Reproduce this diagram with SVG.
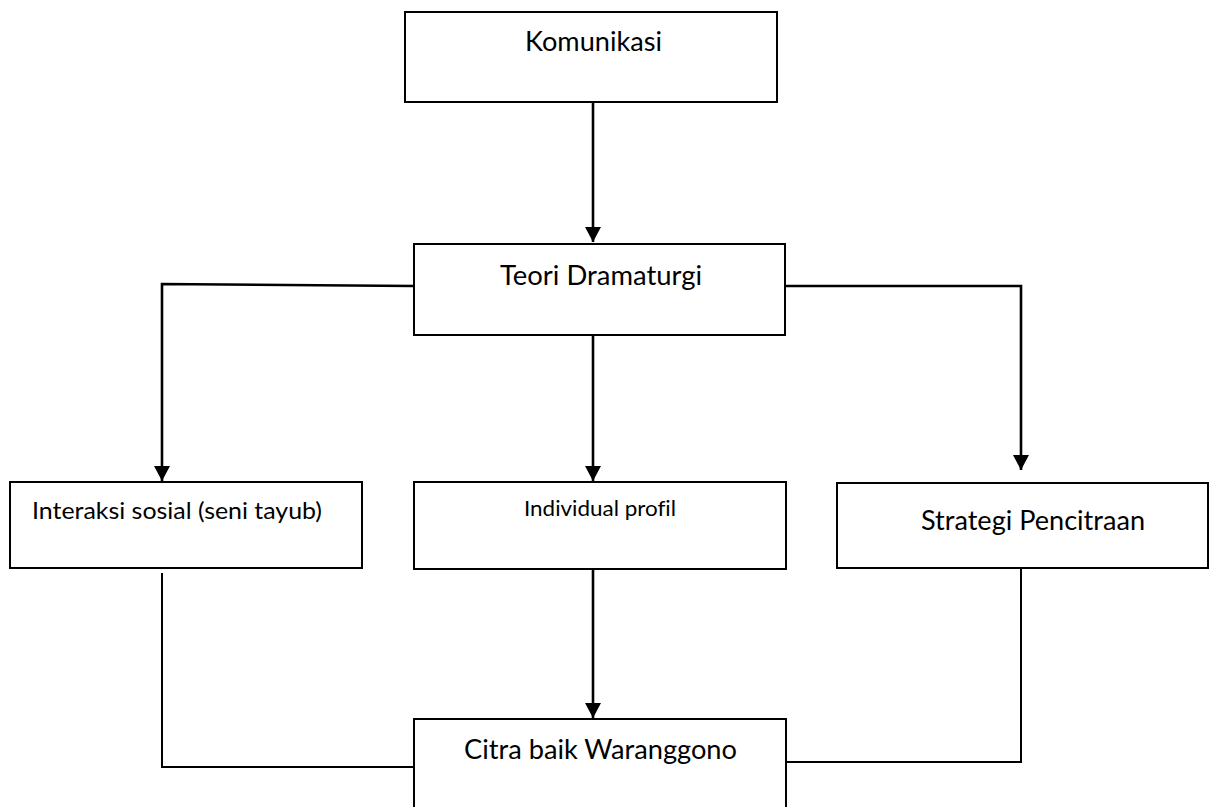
<svg xmlns="http://www.w3.org/2000/svg" width="1229" height="807" viewBox="0 0 1229 807">
<style>
.box{fill:#fff;stroke:#000;stroke-width:2}
.lbl{font-family:Lato,"Open Sans","Liberation Sans",sans-serif;fill:#000;text-anchor:start;font-variant-ligatures:none}
.con{fill:none;stroke:#000;stroke-width:2}
.arr{stroke-width:2.6}
</style>
<defs>
<marker id="ah" viewBox="0 0 15 16" refX="15" refY="8" markerWidth="15" markerHeight="16" markerUnits="userSpaceOnUse" orient="auto">
<path d="M0,0 L15,8 L0,16 z" fill="#000"/>
</marker>
</defs>
<rect width="1229" height="807" fill="#fff"/>
<g id="connectors">
<path class="con arr" d="M593,102 V242" marker-end="url(#ah)"/>
<path class="con arr" d="M414,286 L162,284 V481" marker-end="url(#ah)"/>
<path class="con arr" d="M593,335 V481" marker-end="url(#ah)"/>
<path class="con arr" d="M785,286 H1021 V470" marker-end="url(#ah)"/>
<path class="con arr" d="M593,569 V718" marker-end="url(#ah)"/>
<path class="con" d="M162,573 V767 H414"/>
<path class="con" d="M1021,568 V762 H786"/>
</g>
<g id="komunikasi">
<rect class="box" x="405" y="12" width="372" height="90"/>
<text class="lbl" x="525" y="51" font-size="26" textLength="137" lengthAdjust="spacingAndGlyphs">Komunikasi</text>
</g>
<g id="teori">
<rect class="box" x="414" y="244" width="371" height="91"/>
<text class="lbl" x="500" y="285" font-size="26" textLength="202" lengthAdjust="spacingAndGlyphs">Teori Dramaturgi</text>
</g>
<g id="interaksi">
<rect class="box" x="10" y="482" width="352" height="86"/>
<text class="lbl" x="32" y="519" font-size="23.5" textLength="290" lengthAdjust="spacingAndGlyphs">Interaksi sosial (seni tayub)</text>
</g>
<g id="individual">
<rect class="box" x="414" y="482" width="372" height="87"/>
<text class="lbl" x="524" y="516" font-size="20.5" textLength="152" lengthAdjust="spacingAndGlyphs">Individual profil</text>
</g>
<g id="strategi">
<rect class="box" x="837" y="483" width="371" height="85"/>
<text class="lbl" x="921" y="530" font-size="26" textLength="224" lengthAdjust="spacingAndGlyphs">Strategi Pencitraan</text>
</g>
<g id="citra">
<rect class="box" x="414" y="719" width="372" height="95"/>
<text class="lbl" x="464" y="759" font-size="26" textLength="273" lengthAdjust="spacingAndGlyphs">Citra baik Waranggono</text>
</g>
</svg>
